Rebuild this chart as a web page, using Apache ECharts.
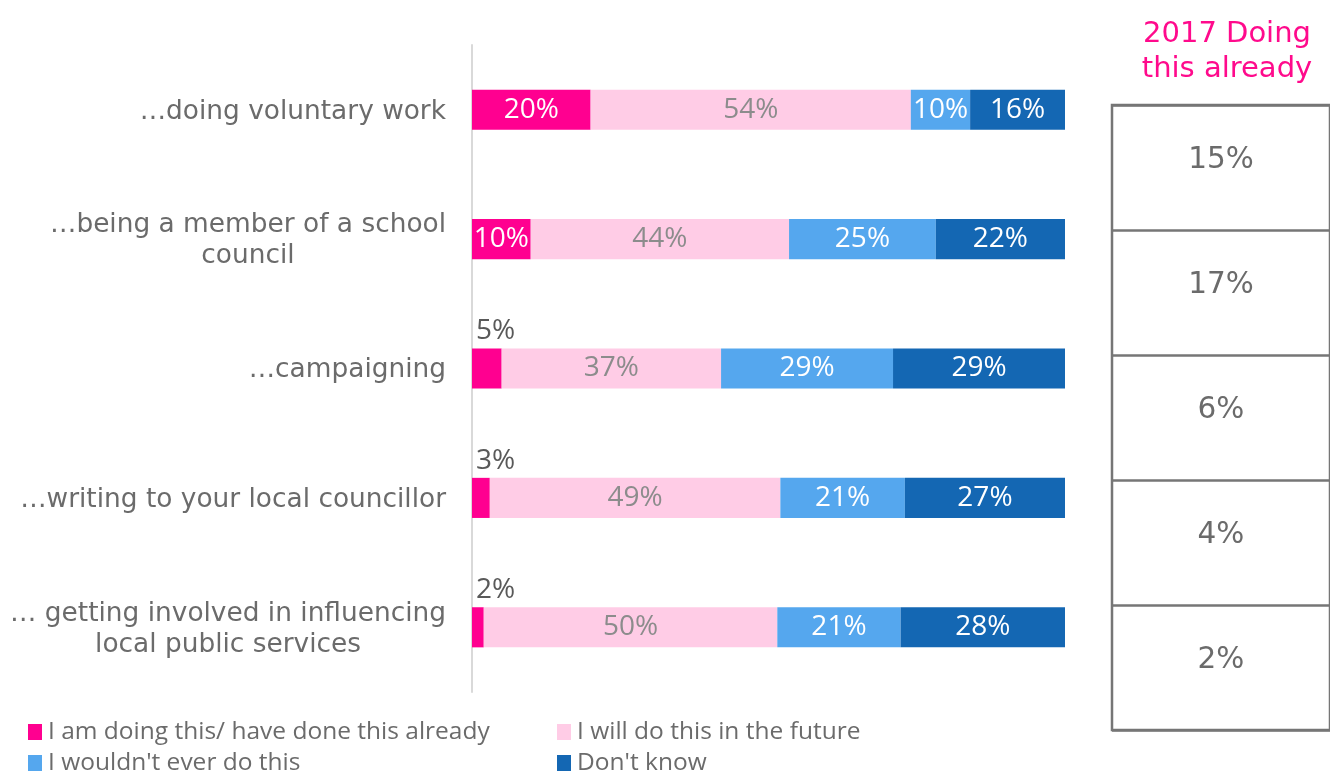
<!DOCTYPE html>
<html>
<head>
<meta charset="utf-8">
<script src="https://cdn.jsdelivr.net/npm/echarts@6/dist/echarts.min.js"></script>
<style>
  html, body { margin: 0; padding: 0; background: #ffffff; }
  #chart { width: 1330px; height: 773px; }
</style>
</head>
<body>
<div id="chart"></div>
<script>
// Activities (top to bottom)
const categories = [
  '…doing voluntary work',
  '…being a member of a school\ncouncil',
  '…campaigning',
  '…writing to your local councillor',
  '… getting involved in influencing\nlocal public services'
];

// Responses, in % of each row
const doingAlready = [20, 10, 5, 3, 2];
const willDo = [54, 44, 37, 49, 50];
const wouldNot = [10, 25, 29, 21, 21];
const dontKnow = [16, 22, 29, 27, 28];

const seriesNames = [
  'I am doing this/ have done this already',
  'I will do this in the future',
  "I wouldn't ever do this",
  "Don't know"
];

// 2017 comparison column: share already doing each activity
const tableTitle = '2017 Doing\nthis already';
const doing2017 = [15, 17, 6, 4, 2];

const colors = ['#FF0090', '#FFCCE6', '#55A7EE', '#1467B3'];
const labelColors = ['#FFFFFF', '#8C8C8C', '#FFFFFF', '#FFFFFF'];
const rows = [doingAlready, willDo, wouldNot, dontKnow];

// 100% stacked: each row is scaled to its own total, labels keep the stated value
const rowTotals = categories.map((_, i) => rows.reduce((s, r) => s + r[i], 0));

const barSeries = rows.map((vals, si) => ({
  name: seriesNames[si],
  type: 'bar',
  stack: 'total',
  xAxisIndex: 0,
  yAxisIndex: 0,
  barCategoryGap: '69%',
  itemStyle: { color: colors[si] },
  emphasis: { disabled: true },
  label: {
    show: true,
    position: 'inside',
    color: labelColors[si],
    fontFamily: 'Open Sans',
    fontSize: 28,
    formatter: p => p.data.raw + '%'
  },
  data: vals.map((v, i) => {
    const item = { value: v / rowTotals[i] * 100, raw: v };
    if (v < 8) {
      // narrow segment: put its label above the bar
      item.label = {
        position: [4, -3],
        align: 'left',
        verticalAlign: 'bottom',
        color: '#595959'
      };
    }
    return item;
  })
}));

// legend laid out as a 2 x 2 grid, one legend per entry
const legendSlots = [
  { left: 28, top: 717 },
  { left: 557, top: 717 },
  { left: 28, top: 748 },
  { left: 557, top: 748 }
];
const legends = seriesNames.map((name, i) => ({
  data: [name],
  left: legendSlots[i].left,
  top: legendSlots[i].top,
  padding: 0,
  itemWidth: 14,
  itemHeight: 16,
  itemGap: 0,
  icon: 'rect',
  selectedMode: false,
  textStyle: {
    fontFamily: 'Open Sans',
    fontSize: 24.5,
    lineHeight: 30,
    color: '#6B6B6B',
    padding: [0, 0, 0, 1]
  }
}));

const option = {
  animation: false,
  backgroundColor: '#ffffff',
  title: {
    text: tableTitle,
    left: 1222,
    top: 12,
    textAlign: 'center',
    textStyle: {
      fontFamily: 'DejaVu Sans',
      fontSize: 29,
      fontWeight: 'normal',
      color: '#FF0A8C',
      lineHeight: 35
    }
  },
  legend: legends,
  grid: [
    { left: 472, right: 265, top: 45, bottom: 81 },
    {
      left: 1112, right: -4, top: 105, bottom: 43,
      show: true, borderColor: '#767676', borderWidth: 2.5
    }
  ],
  xAxis: [
    { type: 'value', gridIndex: 0, min: 0, max: 100, show: false },
    { type: 'value', gridIndex: 1, min: 0, max: 1, show: false }
  ],
  yAxis: [
    {
      type: 'category',
      gridIndex: 0,
      inverse: true,
      data: categories,
      axisLine: { show: true, lineStyle: { color: '#D9D9D9', width: 2 } },
      axisTick: { show: false },
      axisLabel: {
        margin: 26,
        align: 'right',
        padding: [4, 0, 0, 0],
        formatter: v => v.split('\n').map(l => '{c|' + l + '}').join('\n'),
        rich: {
          c: {
            align: 'center',
            fontFamily: 'DejaVu Sans',
            fontSize: 26.4,
            lineHeight: 31,
            color: '#6B6B6B'
          }
        }
      }
    },
    {
      type: 'category',
      gridIndex: 1,
      inverse: true,
      data: categories,
      axisLine: { show: false },
      axisTick: { show: false },
      axisLabel: { show: false },
      splitLine: { show: true, lineStyle: { color: '#767676', width: 2.5 } }
    }
  ],
  series: barSeries.concat([
    {
      type: 'scatter',
      xAxisIndex: 1,
      yAxisIndex: 1,
      symbolSize: 0,
      silent: true,
      itemStyle: { opacity: 1 },
      label: {
        show: true,
        position: 'inside',
        offset: [0, -7],
        fontFamily: 'DejaVu Sans',
        fontSize: 29.5,
        color: '#6B6B6B',
        formatter: p => p.data.raw + '%'
      },
      data: doing2017.map((v, i) => ({ value: [0.5, i], raw: v }))
    }
  ])
};

const chart = echarts.init(document.getElementById('chart'), null, { renderer: 'canvas' });
chart.setOption(option);
</script>
</body>
</html>
